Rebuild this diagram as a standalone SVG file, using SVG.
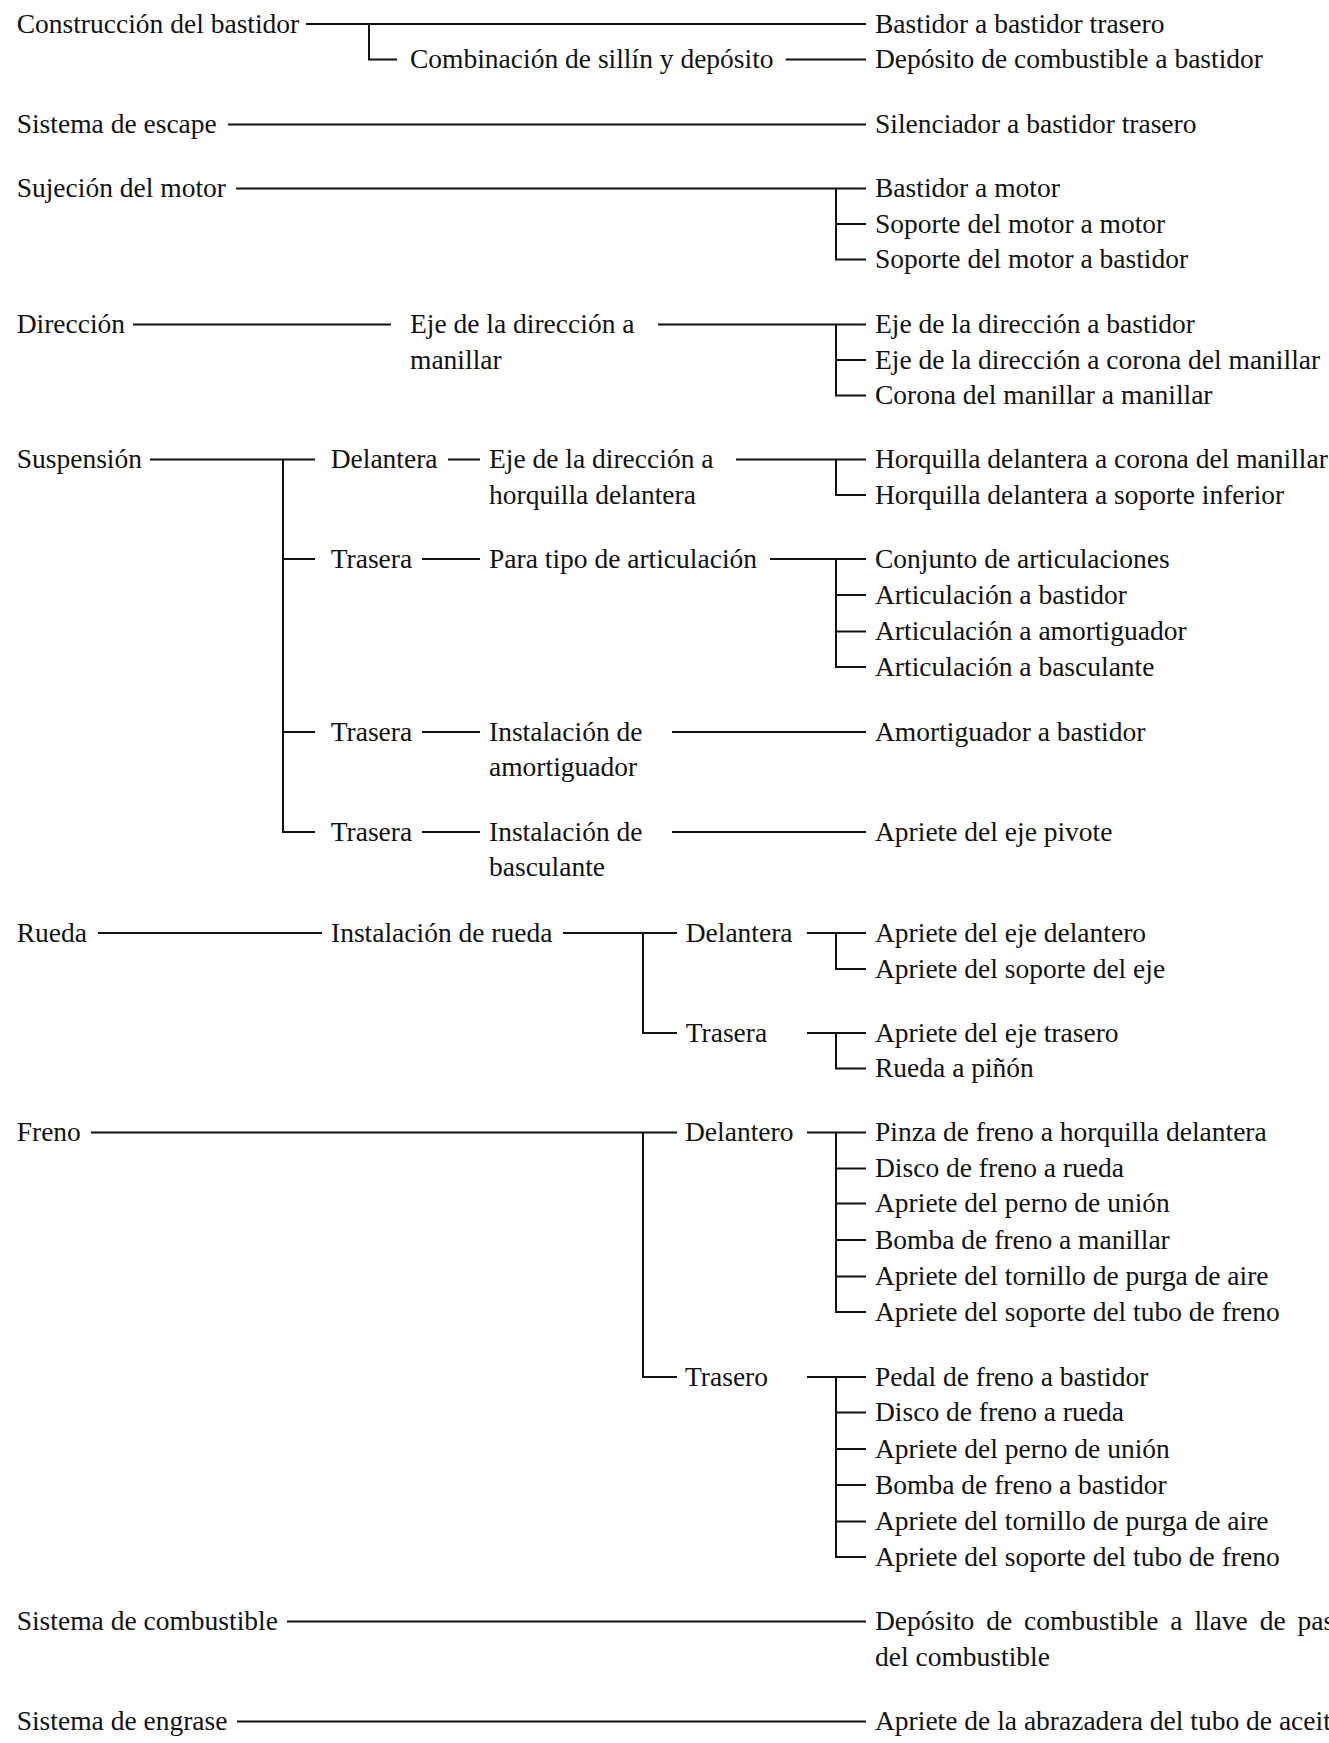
<svg xmlns="http://www.w3.org/2000/svg" width="1329" height="1743" viewBox="0 0 1329 1743">
<style>
.t{font-family:"Liberation Serif","Times New Roman",serif;font-size:27.5px;fill:#111}
.c{fill:none;stroke:#111;stroke-width:2}
</style>
<rect width="1329" height="1743" fill="#fff"/>
<g id="connectors" class="c">
<path d="M306 24H866M369 24V59.5H397M785.6 59.5H866"/>
<path d="M228 124.5H866"/>
<path d="M236 188.5H866M836 188.5V259.5H866M836 224H866"/>
<path d="M133 324.5H391M658 324.5H866M836 324.5V395.5H866M836 360H866"/>
<path d="M150 459.5H315M283 459.5V832H315M283 559H315M283 732H315"/>
<path d="M448 459.5H480M736 459.5H866M836 459.5V495H866"/>
<path d="M422 559H480M770 559H866M836 559V667H866M836 595H866M836 631.5H866"/>
<path d="M422 732H480M672 732H866"/>
<path d="M422 832H480M672 832H866"/>
<path d="M98 933H322M563 933H677M643 933V1033H677"/>
<path d="M807 933H866M836 933V969H866M807 1033H866M836 1033V1068.5H866"/>
<path d="M91 1132.5H677M643 1132.5V1377H677"/>
<path d="M807 1132.5H866M836 1132.5V1312H866M836 1168.5H866M836 1203.5H866M836 1240H866M836 1276.5H866"/>
<path d="M807 1377H866M836 1377V1557H866M836 1412.5H866M836 1449H866M836 1485H866M836 1521.5H866"/>
<path d="M287 1621.5H866"/>
<path d="M237 1721.5H866"/>
</g>
<g id="n-construccion"><text class="t" x="16.7" y="32.5">Construcción del bastidor</text></g>
<g id="n-combinacion"><text class="t" x="410" y="68">Combinación de sillín y depósito</text></g>
<g id="n-bastidor-trasero"><text class="t" x="875" y="32.5">Bastidor a bastidor trasero</text></g>
<g id="n-deposito-bastidor"><text class="t" x="875" y="68">Depósito de combustible a bastidor</text></g>
<g id="n-escape"><text class="t" x="16.7" y="133">Sistema de escape</text></g>
<g id="n-silenciador"><text class="t" x="875" y="133">Silenciador a bastidor trasero</text></g>
<g id="n-motor"><text class="t" x="16.7" y="197">Sujeción del motor</text></g>
<g id="n-motor-1"><text class="t" x="875" y="197">Bastidor a motor</text></g>
<g id="n-motor-2"><text class="t" x="875" y="232.5">Soporte del motor a motor</text></g>
<g id="n-motor-3"><text class="t" x="875" y="268">Soporte del motor a bastidor</text></g>
<g id="n-direccion"><text class="t" x="16.7" y="333">Dirección</text></g>
<g id="n-eje-manillar"><text class="t" x="410" y="333">Eje de la dirección a</text><text class="t" x="410" y="368.5">manillar</text></g>
<g id="n-dir-1"><text class="t" x="875" y="333">Eje de la dirección a bastidor</text></g>
<g id="n-dir-2"><text class="t" x="875" y="368.5">Eje de la dirección a corona del manillar</text></g>
<g id="n-dir-3"><text class="t" x="875" y="404">Corona del manillar a manillar</text></g>
<g id="n-suspension"><text class="t" x="16.7" y="468">Suspensión</text></g>
<g id="n-delantera"><text class="t" x="330.7" y="468">Delantera</text></g>
<g id="n-eje-horquilla"><text class="t" x="489" y="468">Eje de la dirección a</text><text class="t" x="489" y="503.5">horquilla delantera</text></g>
<g id="n-horq-1"><text class="t" x="875" y="468">Horquilla delantera a corona del manillar</text></g>
<g id="n-horq-2"><text class="t" x="875" y="503.5">Horquilla delantera a soporte inferior</text></g>
<g id="n-trasera-1"><text class="t" x="330.7" y="567.5">Trasera</text></g>
<g id="n-articulacion"><text class="t" x="489" y="567.5">Para tipo de articulación</text></g>
<g id="n-art-1"><text class="t" x="875" y="567.5">Conjunto de articulaciones</text></g>
<g id="n-art-2"><text class="t" x="875" y="603.5">Articulación a bastidor</text></g>
<g id="n-art-3"><text class="t" x="875" y="640">Articulación a amortiguador</text></g>
<g id="n-art-4"><text class="t" x="875" y="675.5">Articulación a basculante</text></g>
<g id="n-trasera-2"><text class="t" x="330.7" y="740.5">Trasera</text></g>
<g id="n-inst-amort"><text class="t" x="489" y="740.5">Instalación de</text><text class="t" x="489" y="776">amortiguador</text></g>
<g id="n-amort-bastidor"><text class="t" x="875" y="740.5">Amortiguador a bastidor</text></g>
<g id="n-trasera-3"><text class="t" x="330.7" y="840.5">Trasera</text></g>
<g id="n-inst-basc"><text class="t" x="489" y="840.5">Instalación de</text><text class="t" x="489" y="876">basculante</text></g>
<g id="n-eje-pivote"><text class="t" x="875" y="840.5">Apriete del eje pivote</text></g>
<g id="n-rueda"><text class="t" x="16.7" y="941.5">Rueda</text></g>
<g id="n-inst-rueda"><text class="t" x="331" y="941.5">Instalación de rueda</text></g>
<g id="n-rueda-del"><text class="t" x="685.7" y="941.5">Delantera</text></g>
<g id="n-rd-1"><text class="t" x="875" y="941.5">Apriete del eje delantero</text></g>
<g id="n-rd-2"><text class="t" x="875" y="977.5">Apriete del soporte del eje</text></g>
<g id="n-rueda-tra"><text class="t" x="685.7" y="1041.5">Trasera</text></g>
<g id="n-rt-1"><text class="t" x="875" y="1041.5">Apriete del eje trasero</text></g>
<g id="n-rt-2"><text class="t" x="875" y="1077">Rueda a piñón</text></g>
<g id="n-freno"><text class="t" x="16.7" y="1141">Freno</text></g>
<g id="n-freno-del"><text class="t" x="685" y="1141">Delantero</text></g>
<g id="n-fd-1"><text class="t" x="875" y="1141">Pinza de freno a horquilla delantera</text></g>
<g id="n-fd-2"><text class="t" x="875" y="1177">Disco de freno a rueda</text></g>
<g id="n-fd-3"><text class="t" x="875" y="1212">Apriete del perno de unión</text></g>
<g id="n-fd-4"><text class="t" x="875" y="1248.5">Bomba de freno a manillar</text></g>
<g id="n-fd-5"><text class="t" x="875" y="1285">Apriete del tornillo de purga de aire</text></g>
<g id="n-fd-6"><text class="t" x="875" y="1320.5">Apriete del soporte del tubo de freno</text></g>
<g id="n-freno-tra"><text class="t" x="685" y="1385.5">Trasero</text></g>
<g id="n-ft-1"><text class="t" x="875" y="1385.5">Pedal de freno a bastidor</text></g>
<g id="n-ft-2"><text class="t" x="875" y="1421">Disco de freno a rueda</text></g>
<g id="n-ft-3"><text class="t" x="875" y="1457.5">Apriete del perno de unión</text></g>
<g id="n-ft-4"><text class="t" x="875" y="1493.5">Bomba de freno a bastidor</text></g>
<g id="n-ft-5"><text class="t" x="875" y="1530">Apriete del tornillo de purga de aire</text></g>
<g id="n-ft-6"><text class="t" x="875" y="1565.5">Apriete del soporte del tubo de freno</text></g>
<g id="n-combustible"><text class="t" x="16.7" y="1630">Sistema de combustible</text></g>
<g id="n-llave"><text class="t" x="875" y="1630" word-spacing="5">Depósito de combustible a llave de paso</text><text class="t" x="875" y="1665.5">del combustible</text></g>
<g id="n-engrase"><text class="t" x="16.7" y="1730">Sistema de engrase</text></g>
<g id="n-abrazadera"><text class="t" x="875" y="1730">Apriete de la abrazadera del tubo de aceite</text></g>
</svg>
